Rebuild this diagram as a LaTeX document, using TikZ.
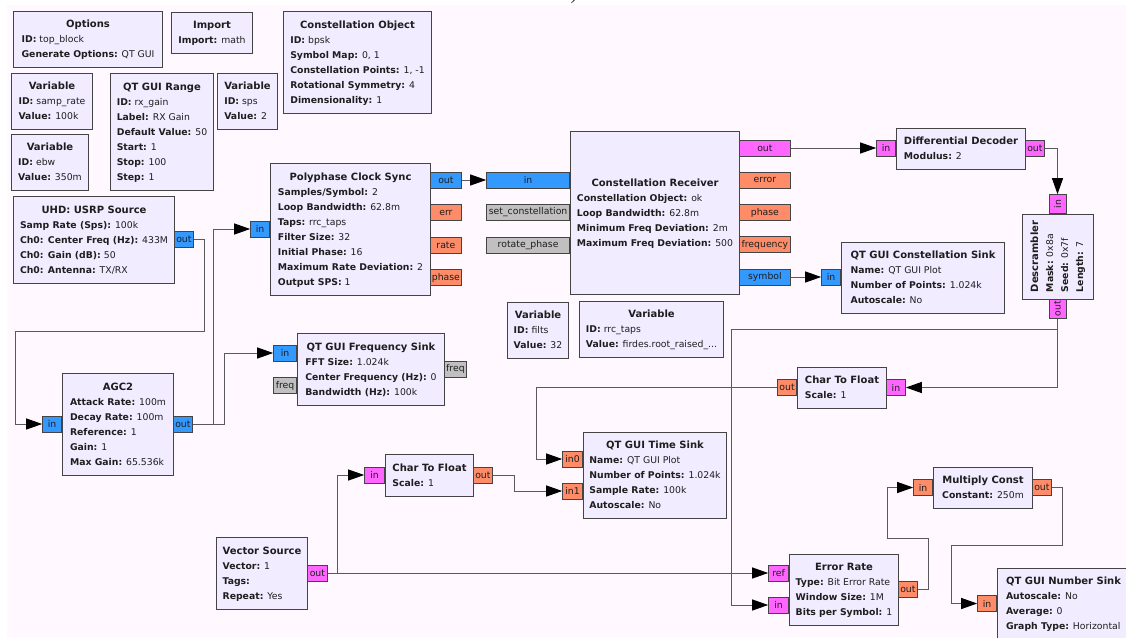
\documentclass[tikz,border=0pt]{standalone}
\usepackage{fontspec}
\setmainfont{DejaVu Sans}
\newfontfamily\fragfont{Liberation Serif}
\usetikzlibrary{arrows.meta}
\definecolor{bgc}{HTML}{FFF9FF}
\definecolor{blkc}{HTML}{F1ECFF}
\definecolor{bord}{HTML}{444444}
\definecolor{cplxc}{HTML}{3399FF}
\definecolor{fltc}{HTML}{FF8C69}
\definecolor{bytc}{HTML}{FF66FF}
\definecolor{msgc}{HTML}{C0C0C0}
\definecolor{linec}{HTML}{5A5A5A}
\definecolor{txtc}{HTML}{1E1E1E}
\newcommand{\prmfont}{\fontsize{9.3}{15}\selectfont}
\newcommand{\ttlfont}{\fontsize{10}{15}\selectfont\bfseries}
\newcommand{\kv}[2]{\textbf{#1:} #2}
\newcommand{\blktext}[2]{\begin{tabular}{@{}l@{}}\multicolumn{1}{@{}c@{}}{\ttlfont #1}\\#2\end{tabular}}
\tikzset{
  blk/.style={draw=bord,fill=blkc,line width=1pt,inner sep=0pt,anchor=north west,font=\prmfont,text=txtc},
  port/.style={draw=bord,line width=0.8pt,inner sep=0pt,minimum height=16,font=\prmfont,text=txtc},
  cplx/.style={port,fill=cplxc},
  fltp/.style={port,fill=fltc},
  bytp/.style={port,fill=bytc},
  msgp/.style={port,fill=msgc},
  cn/.style={draw=linec,line width=1pt,-{Triangle[length=16pt,width=11pt,color=black]}}
}
\begin{document}
\begin{tikzpicture}[x=1pt,y=-1pt]
\useasboundingbox (0,0) rectangle (1126,637);
\fill[white] (0,0) rectangle (1126,637);
\fill[bgc] (7,5) rectangle (1126,637);
\node[font=\fragfont\fontsize{20}{20}\selectfont,anchor=base,inner sep=0pt,text=black!80] (frag) at (574,-1) {)};
% variables and options
\node[blk,minimum width=149,minimum height=56] (opts) at (13,11) {\blktext{Options}{\kv{ID}{top\_block}\\ \kv{Generate Options}{QT GUI}}};
\node[blk,minimum width=81,minimum height=41] (imp) at (171,12) {\blktext{Import}{\kv{Import}{math}}};
\node[blk,minimum width=148,minimum height=102] (cobj) at (283,11) {\blktext{Constellation Object}{\kv{ID}{bpsk}\\ \kv{Symbol Map}{0, 1}\\ \kv{Constellation Points}{1, -1}\\ \kv{Rotational Symmetry}{4}\\ \kv{Dimensionality}{1}}};
\node[blk,minimum width=81,minimum height=56] (vsamp) at (11,73) {\blktext{Variable}{\kv{ID}{samp\_rate}\\ \kv{Value}{100k}}};
\node[blk,minimum width=103,minimum height=117] (qrng) at (110,73) {\blktext{QT GUI Range}{\kv{ID}{rx\_gain}\\ \kv{Label}{RX Gain}\\ \kv{Default Value}{50}\\ \kv{Start}{1}\\ \kv{Stop}{100}\\ \kv{Step}{1}}};
\node[blk,minimum width=60,minimum height=56] (vsps) at (217,73) {\blktext{Variable}{\kv{ID}{sps}\\ \kv{Value}{2}}};
\node[blk,minimum width=77,minimum height=56] (vebw) at (11,134) {\blktext{Variable}{\kv{ID}{ebw}\\ \kv{Value}{350m}}};
\node[blk,minimum width=61,minimum height=56] (vfilts) at (507,302) {\blktext{Variable}{\kv{ID}{filts}\\ \kv{Value}{32}}};
\node[blk,minimum width=144,minimum height=56] (vrrc) at (579,301) {\blktext{Variable}{\kv{ID}{rrc\_taps}\\ \kv{Value}{firdes.root\_raised\_...}}};
% receive chain
\node[blk,minimum width=161,minimum height=87] (usrp) at (13,196) {\blktext{UHD: USRP Source}{\kv{Samp Rate (Sps)}{100k}\\ \kv{Ch0: Center Freq (Hz)}{433M}\\ \kv{Ch0: Gain (dB)}{50}\\ \kv{Ch0: Antenna}{TX/RX}}};
\node[cplx,anchor=west,minimum width=19] (usrp-out) at (174,239.5) {out};
\node[blk,minimum width=111,minimum height=102] (agc) at (62,373) {\blktext{AGC2}{\kv{Attack Rate}{100m}\\ \kv{Decay Rate}{100m}\\ \kv{Reference}{1}\\ \kv{Gain}{1}\\ \kv{Max Gain}{65.536k}}};
\node[cplx,anchor=east,minimum width=19] (agc-in) at (62,424) {in};
\node[cplx,anchor=west,minimum width=19] (agc-out) at (173,424) {out};
\node[blk,minimum width=147,minimum height=72] (fsink) at (297,333) {\blktext{QT GUI Frequency Sink}{\kv{FFT Size}{1.024k}\\ \kv{Center Frequency (Hz)}{0}\\ \kv{Bandwidth (Hz)}{100k}}};
\node[cplx,anchor=east,minimum width=23] (fsink-in) at (297,353) {in};
\node[msgp,anchor=east,minimum width=23] (fsink-fq) at (297,385.5) {freq};
\node[msgp,anchor=west,minimum width=22] (fsink-fqo) at (444,369) {freq};
\node[blk,minimum width=160,minimum height=132] (pcs) at (270,163) {\blktext{Polyphase Clock Sync}{\kv{Samples/Symbol}{2}\\ \kv{Loop Bandwidth}{62.8m}\\ \kv{Taps}{rrc\_taps}\\ \kv{Filter Size}{32}\\ \kv{Initial Phase}{16}\\ \kv{Maximum Rate Deviation}{2}\\ \kv{Output SPS}{1}}};
\node[cplx,anchor=east,minimum width=19] (pcs-in) at (270,229) {in};
\node[cplx,anchor=west,minimum width=31] (pcs-out) at (430,180) {out};
\node[fltp,anchor=west,minimum width=31] (pcs-err) at (430,212.5) {err};
\node[fltp,anchor=west,minimum width=31] (pcs-rate) at (430,245) {rate};
\node[fltp,anchor=west,minimum width=31] (pcs-ph) at (430,277.5) {phase};
\node[blk,minimum width=169,minimum height=163] (crx) at (570,131) {\blktext{Constellation Receiver}{\kv{Constellation Object}{ok}\\ \kv{Loop Bandwidth}{62.8m}\\ \kv{Minimum Freq Deviation}{2m}\\ \kv{Maximum Freq Deviation}{500}}};
\node[cplx,anchor=east,minimum width=83] (crx-in) at (570,180) {in};
\node[msgp,anchor=east,minimum width=83] (crx-setc) at (570,212.5) {set\_constellation};
\node[msgp,anchor=east,minimum width=83] (crx-rot) at (570,245) {rotate\_phase};
\node[bytp,anchor=west,minimum width=51] (crx-out) at (739,148) {out};
\node[fltp,anchor=west,minimum width=51] (crx-err) at (739,180.25) {error};
\node[fltp,anchor=west,minimum width=51] (crx-ph) at (739,212.5) {phase};
\node[fltp,anchor=west,minimum width=51] (crx-freq) at (739,244.75) {frequency};
\node[cplx,anchor=west,minimum width=51] (crx-sym) at (739,277) {symbol};
\node[blk,minimum width=129,minimum height=41] (ddec) at (896,127.5) {\blktext{Differential Decoder}{\kv{Modulus}{2}}};
\node[bytp,anchor=east,minimum width=19] (ddec-in) at (896,148) {in};
\node[bytp,anchor=west,minimum width=19] (ddec-out) at (1025,148) {out};
\node[blk,anchor=center,rotate=90,minimum width=85,minimum height=71] (dscr) at (1057.5,256.5) {\blktext{Descrambler}{\kv{Mask}{0x8a}\\ \kv{Seed}{0x7f}\\ \kv{Length}{7}}};
\node[bytp,rotate=90,anchor=west,minimum width=19,minimum height=17] (dscr-in) at (1057.5,214) {in};
\node[bytp,rotate=90,anchor=east,minimum width=19,minimum height=17] (dscr-out) at (1057.5,299) {out};
\node[blk,minimum width=163,minimum height=71] (csink) at (841,241.5) {\blktext{QT GUI Constellation Sink}{\kv{Name}{QT GUI Plot}\\ \kv{Number of Points}{1.024k}\\ \kv{Autoscale}{No}}};
\node[cplx,anchor=east,minimum width=19] (csink-in) at (841,277) {in};
% bit error measurement
\node[blk,minimum width=89,minimum height=41] (ctfa) at (797,367) {\blktext{Char To Float}{\kv{Scale}{1}}};
\node[fltp,anchor=east,minimum width=19] (ctfa-out) at (797,387.5) {out};
\node[bytp,anchor=west,minimum width=19] (ctfa-in) at (886,387.5) {in};
\node[blk,minimum width=143,minimum height=86] (tsink) at (583,432) {\blktext{QT GUI Time Sink}{\kv{Name}{QT GUI Plot}\\ \kv{Number of Points}{1.024k}\\ \kv{Sample Rate}{100k}\\ \kv{Autoscale}{No}}};
\node[fltp,anchor=east,minimum width=20] (tsink-in0) at (583,459) {in0};
\node[fltp,anchor=east,minimum width=20] (tsink-in1) at (583,491) {in1};
\node[blk,minimum width=88,minimum height=42] (ctfb) at (385,454) {\blktext{Char To Float}{\kv{Scale}{1}}};
\node[bytp,anchor=east,minimum width=20] (ctfb-in) at (385,475) {in};
\node[fltp,anchor=west,minimum width=19] (ctfb-out) at (473,475) {out};
\node[blk,minimum width=91,minimum height=72] (vsrc) at (216,537) {\blktext{Vector Source}{\kv{Vector}{1}\\ \textbf{Tags:}\\ \kv{Repeat}{Yes}}};
\node[bytp,anchor=west,minimum width=20] (vsrc-out) at (307,573) {out};
\node[blk,minimum width=109,minimum height=71] (erate) at (789,553.5) {\blktext{Error Rate}{\kv{Type}{Bit Error Rate}\\ \kv{Window Size}{1M}\\ \kv{Bits per Symbol}{1}}};
\node[bytp,anchor=east,minimum width=20] (erate-ref) at (789,573) {ref};
\node[bytp,anchor=east,minimum width=20] (erate-in) at (789,605) {in};
\node[fltp,anchor=west,minimum width=19] (erate-out) at (898,589) {out};
\node[blk,minimum width=99,minimum height=41] (mconst) at (933,467) {\blktext{Multiply Const}{\kv{Constant}{250m}}};
\node[fltp,anchor=east,minimum width=19] (mconst-in) at (933,487.5) {in};
\node[fltp,anchor=west,minimum width=19] (mconst-out) at (1032,487.5) {out};
\node[blk,minimum width=132,minimum height=71] (nsink) at (997,568) {\blktext{QT GUI Number Sink}{\kv{Autoscale}{No}\\ \kv{Average}{0}\\ \kv{Graph Type}{Horizontal}}};
\node[fltp,anchor=east,minimum width=19] (nsink-in) at (997,603.5) {in};
% connections
\draw[cn] (usrp-out.east) -- ++(11,0) |- (15,331) |- (agc-in.west);
\draw[cn] (agc-out.east) -- ++(21,0) |- (pcs-in.west);
\draw[cn] (agc-out.east) -- ++(32,0) |- (fsink-in.west);
\draw[cn] (pcs-out.east) -- (crx-in.west);
\draw[cn] (crx-out.east) -- (ddec-in.west);
\draw[cn] (crx-sym.east) -- (csink-in.west);
\draw[cn] (ddec-out.east) -| (dscr-in.east);
\draw[cn] (dscr-out.west) |- (ctfa-in.east);
\draw[cn] (dscr-out.west) |- (731,329) |- (erate-in.west);
\draw[cn] (ctfa-out.west) -| (536,459) -- (tsink-in0.west);
\draw[cn] (vsrc-out.east) -- (erate-ref.west);
\draw[cn] (vsrc-out.east) -- ++(10,0) |- (ctfb-in.west);
\draw[cn] (ctfb-out.east) -- ++(22,0) |- (tsink-in1.west);
\draw[cn] (erate-out.east) -- ++(11,0) |- (887,538) |- (mconst-in.west);
\draw[cn] (mconst-out.east) -- ++(11,0) |- (951,545) |- (nsink-in.west);
\end{tikzpicture}
\end{document}
